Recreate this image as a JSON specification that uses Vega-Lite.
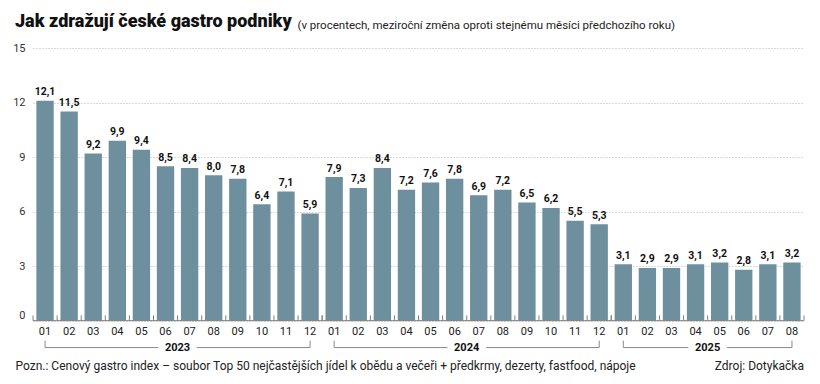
{
  "$schema": "https://vega.github.io/schema/vega-lite/v6.json",
  "width": 771,
  "height": 309,
  "autosize": {"type": "none"},
  "padding": {"left": 33, "top": 48, "right": 16, "bottom": 27},
  "background": "white",
  "title": {
    "text": "Jak zdražují české gastro podniky",
    "anchor": "start",
    "frame": "group",
    "font": "Roboto",
    "fontSize": 18,
    "fontWeight": 900,
    "color": "#111111",
    "dx": -18,
    "dy": 26,
    "offset": 14
  },
  "datasets": {
    "months": [
      {"ym": "2023-01", "month": "01", "value": 12.1}, {"ym": "2023-02", "month": "02", "value": 11.5}, {"ym": "2023-03", "month": "03", "value": 9.2},
      {"ym": "2023-04", "month": "04", "value": 9.9}, {"ym": "2023-05", "month": "05", "value": 9.4}, {"ym": "2023-06", "month": "06", "value": 8.5},
      {"ym": "2023-07", "month": "07", "value": 8.4}, {"ym": "2023-08", "month": "08", "value": 8.0}, {"ym": "2023-09", "month": "09", "value": 7.8},
      {"ym": "2023-10", "month": "10", "value": 6.4}, {"ym": "2023-11", "month": "11", "value": 7.1}, {"ym": "2023-12", "month": "12", "value": 5.9},
      {"ym": "2024-01", "month": "01", "value": 7.9}, {"ym": "2024-02", "month": "02", "value": 7.3}, {"ym": "2024-03", "month": "03", "value": 8.4},
      {"ym": "2024-04", "month": "04", "value": 7.2}, {"ym": "2024-05", "month": "05", "value": 7.6}, {"ym": "2024-06", "month": "06", "value": 7.8},
      {"ym": "2024-07", "month": "07", "value": 6.9}, {"ym": "2024-08", "month": "08", "value": 7.2}, {"ym": "2024-09", "month": "09", "value": 6.5},
      {"ym": "2024-10", "month": "10", "value": 6.2}, {"ym": "2024-11", "month": "11", "value": 5.5}, {"ym": "2024-12", "month": "12", "value": 5.3},
      {"ym": "2025-01", "month": "01", "value": 3.1}, {"ym": "2025-02", "month": "02", "value": 2.9}, {"ym": "2025-03", "month": "03", "value": 2.9},
      {"ym": "2025-04", "month": "04", "value": 3.1}, {"ym": "2025-05", "month": "05", "value": 3.2}, {"ym": "2025-06", "month": "06", "value": 2.8},
      {"ym": "2025-07", "month": "07", "value": 3.1}, {"ym": "2025-08", "month": "08", "value": 3.2}
    ],
    "years": [
      {"year": "2023", "first": "2023-01", "last": "2023-12", "mid": "2023-06"},
      {"year": "2024", "first": "2024-01", "last": "2024-12", "mid": "2024-06"},
      {"year": "2025", "first": "2025-01", "last": "2025-08", "mid": "2025-04"}
    ],
    "notes": [{"text": "Zdroj: Dotykačka"}]
  },
  "layer": [
    {
      "data": {"name": "months"},
      "mark": {"type": "bar", "color": "#6e8f9d"},
      "encoding": {
        "x": {
          "field": "ym",
          "type": "nominal",
          "scale": {"type": "band", "paddingInner": 0.28, "paddingOuter": 0.14},
          "axis": {
            "labels": false,
            "ticks": false,
            "domain": false,
            "title": "Pozn.: Cenový gastro index – soubor Top 50 nejčastějších jídel k obědu a večeři + předkrmy, dezerty, fastfood, nápoje",
            "titleAnchor": "start",
            "titleAlign": "left",
            "titleBaseline": "alphabetic",
            "titleX": -18,
            "titleY": 12.4,
            "titleFont": "Roboto",
            "titleFontSize": 12,
            "titleFontWeight": "normal",
            "titleColor": "#222222"
          }
        },
        "y": {
          "field": "value",
          "type": "quantitative",
          "scale": {"domain": [-2, 15], "nice": false, "zero": false},
          "axis": {
            "values": [0, 3, 6, 9, 12, 15],
            "grid": true,
            "gridDash": [1, 2],
            "gridColor": "#b5b5b5",
            "domain": false,
            "ticks": false,
            "labelPadding": 8,
            "labelFont": "Roboto",
            "labelFontSize": 11,
            "labelColor": "#333333",
            "labelBaseline": {"condition": {"test": "datum.value === 0", "value": "bottom"}, "value": "middle"},
            "title": "(v procentech, meziroční změna oproti stejnému měsíci předchozího roku)",
            "titleAngle": 0,
            "titleAlign": "left",
            "titleBaseline": "alphabetic",
            "titleX": 264,
            "titleY": -20,
            "titleFont": "Roboto",
            "titleFontSize": 11.5,
            "titleFontWeight": "normal",
            "titleColor": "#222222"
          }
        }
      }
    },
    {
      "data": {"name": "months"},
      "mark": {"type": "text", "baseline": "alphabetic", "dy": -5.5, "font": "Roboto", "fontSize": 10.5, "fontWeight": "bold", "color": "#111111"},
      "encoding": {
        "x": {"field": "ym", "type": "nominal"},
        "y": {"field": "value", "type": "quantitative"},
        "text": {"field": "value", "type": "quantitative", "format": ".1f"}
      }
    },
    {
      "data": {"name": "notes"},
      "mark": {"type": "rule", "color": "#808080", "strokeWidth": 1},
      "encoding": {
        "y": {"datum": 0, "type": "quantitative"}
      }
    },
    {
      "data": {"name": "months"},
      "mark": {"type": "rule", "color": "#808080", "strokeWidth": 1, "xOffset": -3.35},
      "encoding": {
        "x": {"field": "ym", "type": "nominal", "bandPosition": 0},
        "y": {"datum": 0, "type": "quantitative"},
        "y2": {"datum": 0.29}
      }
    },
    {
      "data": {"name": "years"},
      "mark": {"type": "rule", "color": "#808080", "strokeWidth": 1, "xOffset": 3.35},
      "encoding": {
        "x": {"field": "last", "type": "nominal", "bandPosition": 1},
        "y": {"datum": 0, "type": "quantitative"},
        "y2": {"datum": 0.29}
      }
    },
    {
      "data": {"name": "months"},
      "mark": {"type": "text", "baseline": "middle", "align": "center", "font": "Roboto", "fontSize": 11, "color": "#222222"},
      "encoding": {
        "x": {"field": "ym", "type": "nominal"},
        "y": {"datum": -0.608, "type": "quantitative"},
        "text": {"field": "month"}
      }
    },
    {
      "data": {"name": "years"},
      "mark": {"type": "rule", "color": "#8a8a8a", "strokeWidth": 1},
      "encoding": {
        "x": {"field": "first", "type": "nominal"},
        "x2": {"field": "last"},
        "y": {"datum": -1.48, "type": "quantitative"}
      }
    },
    {
      "data": {"name": "years"},
      "transform": [{"fold": ["first", "last"], "as": ["end", "m"]}],
      "mark": {"type": "rule", "color": "#8a8a8a", "strokeWidth": 1},
      "encoding": {
        "x": {"field": "m", "type": "nominal"},
        "y": {"datum": -1.1, "type": "quantitative"},
        "y2": {"datum": -1.48}
      }
    },
    {
      "data": {"name": "years"},
      "mark": {"type": "text", "baseline": "middle", "align": "center", "xOffset": 3.35, "font": "Roboto", "fontSize": 11, "fontWeight": "bold", "fill": "white", "stroke": "white", "strokeWidth": 14},
      "encoding": {
        "x": {"field": "mid", "type": "nominal", "bandPosition": 1},
        "y": {"datum": -1.48, "type": "quantitative"},
        "text": {"field": "year"}
      }
    },
    {
      "data": {"name": "years"},
      "mark": {"type": "text", "baseline": "middle", "align": "center", "xOffset": 3.35, "font": "Roboto", "fontSize": 11, "fontWeight": "bold", "color": "#111111"},
      "encoding": {
        "x": {"field": "mid", "type": "nominal", "bandPosition": 1},
        "y": {"datum": -1.48, "type": "quantitative"},
        "text": {"field": "year"}
      }
    },
    {
      "data": {"name": "notes"},
      "mark": {"type": "text", "baseline": "alphabetic", "align": "right", "xOffset": 3.35, "font": "Roboto", "fontSize": 12, "color": "#222222"},
      "encoding": {
        "x": {"datum": "2025-08", "type": "nominal", "bandPosition": 1},
        "y": {"datum": -2.7, "type": "quantitative"},
        "text": {"field": "text"}
      }
    }
  ],
  "config": {
    "view": {"stroke": null},
    "locale": {"number": {"decimal": ",", "thousands": " ", "grouping": [3], "currency": ["", " Kč"]}}
  }
}
